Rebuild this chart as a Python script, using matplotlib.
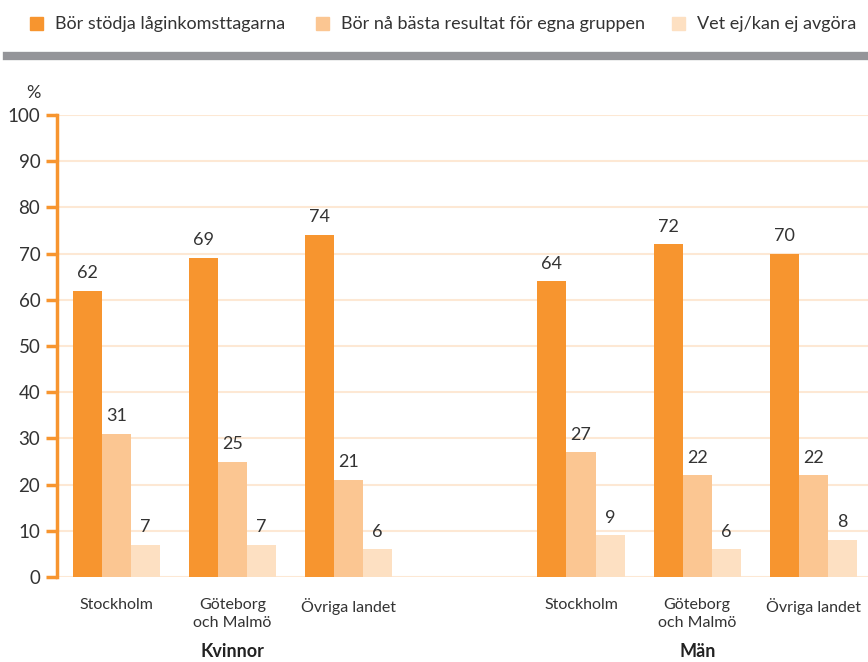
import matplotlib.pyplot as plt
from matplotlib.patches import Rectangle
from matplotlib.lines import Line2D
import numpy as np

# data
series = ["Bör stödja låginkomsttagarna", "Bör nå bästa resultat för egna gruppen", "Vet ej/kan ej avgöra"]
places = ["Stockholm", "Göteborg\noch Malmö", "Övriga landet"]
groups = ["Kvinnor", "Män"]
kvinnor = [[62, 69, 74], [31, 25, 21], [7, 7, 6]]
man = [[64, 72, 70], [27, 22, 22], [9, 6, 8]]

colors = ["#F7952F", "#FBC692", "#FDE0C2"]
grid_col = "#FDE8D4"
text_col = "#333333"

plt.rcParams["font.family"] = ["Lato", "DejaVu Sans"]

fig = plt.figure(figsize=(8.68, 6.62), dpi=100)
W, H = 868, 662
ax = fig.add_axes([57 / W, (H - 577) / H, (W - 57) / W, (577 - 115) / H])

# x positions: two groups of three, with a gap between
xk = np.arange(3)
xm = np.arange(3) + 4
width = 0.25

for i in range(3):
    for xs, vals in ((xk, kvinnor[i]), (xm, man[i])):
        pos = xs + (i - 1) * width
        ax.bar(pos, vals, width=width, color=colors[i], zorder=3)
        for p, v in zip(pos, vals):
            ax.annotate(str(v), (p, v), xytext=(0, 7), textcoords="offset points",
                        ha="center", va="bottom", fontsize=13, color=text_col)

ax.set_ylim(0, 100)
ax.set_xlim(-0.51, 6.47)
ax.set_yticks(range(0, 101, 10))
ax.yaxis.grid(True, color=grid_col, linewidth=1.5, zorder=0)
ax.set_axisbelow(True)

for s in ["top", "right", "bottom"]:
    ax.spines[s].set_visible(False)
ax.spines["left"].set_color(colors[0])
ax.spines["left"].set_linewidth(2.5)

ax.tick_params(axis="y", color=colors[0], length=8, width=2.5, labelsize=13.5,
               labelcolor=text_col, pad=4)
ax.set_xticks(list(xk) + list(xm))
ax.set_xticklabels(places + places, fontsize=11.5, color=text_col, linespacing=1.4)
ax.tick_params(axis="x", length=0, pad=15)

# group names under the place labels
for gx, g in zip((xk.mean(), xm.mean()), groups):
    fig.text(ax.transData.transform((gx, 0))[0] / W, 1 - 657 / H, g, ha="center",
             va="baseline", fontsize=13, fontweight="bold", color="#222222")

fig.text(33 / W, 1 - 93 / H, "%", ha="center", va="center", fontsize=13, color=text_col)

# legend across the top
leg_x = [30, 316, 672]
for lx, lab, c in zip(leg_x, series, colors):
    fig.patches.append(Rectangle((lx / W, 1 - 30 / H), 13 / W, 13 / H,
                                 transform=fig.transFigure, color=c))
    fig.text((lx + 25) / W, 1 - 24 / H, lab, ha="left", va="center",
             fontsize=13, color=text_col)

# grey rule under the legend
fig.lines.append(Line2D([7 / W, 1], [1 - 56 / H] * 2, transform=fig.transFigure,
                        color="#949599", linewidth=6))

fig.savefig("out.png", dpi=100)
